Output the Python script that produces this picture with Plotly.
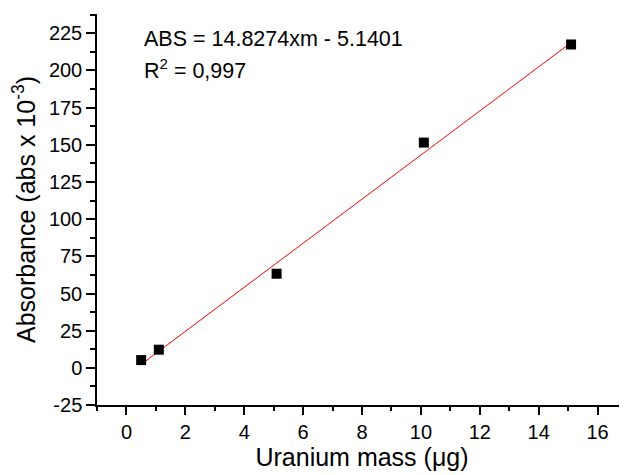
import plotly.graph_objects as go

mass_ug = [0.5, 1.1, 5.1, 10.1, 15.1]
absorbance = [5.2, 12.2, 63.3, 151.5, 217.5]
fit_slope = 14.8274
fit_intercept = -5.1401
fit_x = [0.5, 15.1]
fit_y = [fit_slope * x + fit_intercept for x in fit_x]

x_ticks = [0, 2, 4, 6, 8, 10, 12, 14, 16]
y_ticks = [-25, 0, 25, 50, 75, 100, 125, 150, 175, 200, 225]
y_ticktext = ["-25", "0", "25", "50", "75", "100", "125", "150", "175", "200", "225"]

FONT = "Liberation Sans, Arial, sans-serif"

fig = go.Figure()
fig.add_trace(go.Scatter(x=fit_x, y=fit_y, mode="lines",
                         line=dict(color="#ff0000", width=1), showlegend=False))
fig.add_trace(go.Scatter(x=mass_ug, y=absorbance, mode="markers",
                         marker=dict(symbol="square", size=10, color="black"),
                         showlegend=False))

fig.add_annotation(x=0.52, y=221, xref="x", yref="y", xanchor="left", yanchor="middle",
                   text="ABS = 14.8274xm - 5.1401", showarrow=False,
                   font=dict(family=FONT, size=21.5, color="black"))
fig.add_annotation(x=0.52, y=201, xref="x", yref="y", xanchor="left", yanchor="middle",
                   text="R<sup>2</sup> = 0,997", showarrow=False,
                   font=dict(family=FONT, size=21.5, color="black"))

fig.update_layout(
    width=619, height=467,
    margin=dict(l=89, r=0, t=6, b=70),
    paper_bgcolor="white", plot_bgcolor="white",
    font=dict(family=FONT, color="black"),
    xaxis=dict(range=[-1, 17], tickvals=x_ticks, ticks="outside", ticklen=8,
               tickwidth=1.5, tickcolor="black", showline=True, linecolor="black",
               linewidth=1.5, showgrid=False, zeroline=False, automargin=False,
               tickfont=dict(size=20),
               minor=dict(dtick=1, tick0=0, ticks="outside", ticklen=4, tickcolor="black", tickwidth=1.5),
               title=dict(text="Uranium mass (\u03bcg)", font=dict(size=25), standoff=5)),
    yaxis=dict(range=[-25, 238], tickvals=y_ticks, ticktext=y_ticktext, ticks="outside", ticklen=9,
               tickwidth=1.5, tickcolor="black", showline=True, linecolor="black",
               linewidth=1.5, showgrid=False, zeroline=False, automargin=False,
               tickfont=dict(size=20),
               minor=dict(dtick=12.5, tick0=0, ticks="outside", ticklen=5, tickcolor="black", tickwidth=1.5),
               title=dict(text="Absorbance (abs x 10<sup>-3</sup>)", font=dict(size=25), standoff=8)),
)

fig.write_html("out.html")
